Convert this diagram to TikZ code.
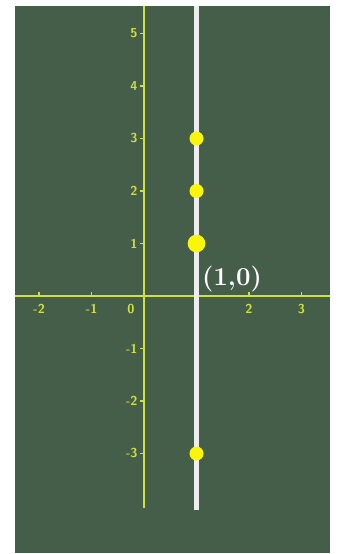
\documentclass[tikz,border=0pt]{standalone}
\usepackage{xcolor}
\usepackage{tikz}
\definecolor{board}{RGB}{69,94,74}
\definecolor{axisyellow}{RGB}{208,224,62}
\definecolor{dotyellow}{RGB}{250,246,10}

\begin{document}
\begin{tikzpicture}[
  axis/.style={draw=axisyellow, line width=1.3pt},
  tickmark/.style={draw=axisyellow, line width=0.7pt},
  ticklabel/.style={text=axisyellow, inner sep=1pt,
    font=\sffamily\bfseries\fontsize{7}{8}\selectfont},
  vline/.style={draw=white!93!black, line width=2.8pt},
  ptdot/.style={circle, fill=dotyellow, inner sep=0pt, minimum size=7.6pt},
  bigdot/.style={ptdot, minimum size=9.6pt}
]
\useasboundingbox[fill=white] (-2.743,-4.914) rectangle (3.676,5.638);
\fill[board] (-2.457,-4.895) rectangle (3.543,5.524);
% axes
\coordinate (xl) at (-2.457,0);
\coordinate (xr) at (3.543,0);
\coordinate (yt) at (0,5.524);
\coordinate (yb) at (0,-4.04);
\draw[axis] (xl) -- (xr);
\draw[axis] (yt) -- (yb);
\foreach \x in {-2,-1,1,2,3}
  \draw[tickmark] (\x,0) -- (\x,0.07);
\foreach \y in {-3,-2,-1,1,2,3,4,5}
  \draw[tickmark] (0,\y) -- (-0.08,\y);
\foreach \x in {-2,-1,1,2,3}
  \node[ticklabel] (xt\x) at (\x,-0.25) {\x};
\node[ticklabel] (xt0) at (-0.25,-0.25) {0};
\foreach \y in {-3,-2,-1,1,2,3,4,5}
  \node[ticklabel, anchor=east] (yt\y) at (-0.08,\y) {\y};
% the line x = 1
\coordinate (vt) at (1,5.524);
\coordinate (vb) at (1,-4.08);
\draw[vline] (vt) -- (vb);
\node[ptdot] (p3) at (1,3) {};
\node[ptdot] (p2) at (1,2) {};
\node[bigdot] (p1) at (1,1) {};
\node[ptdot] (pm3) at (1,-3) {};
\node[text=white, font=\bfseries\fontsize{14}{16}\selectfont, anchor=south west,
  inner sep=0pt] (origin) at (1.1,0.06) {(1,0)};
\end{tikzpicture}
\end{document}
